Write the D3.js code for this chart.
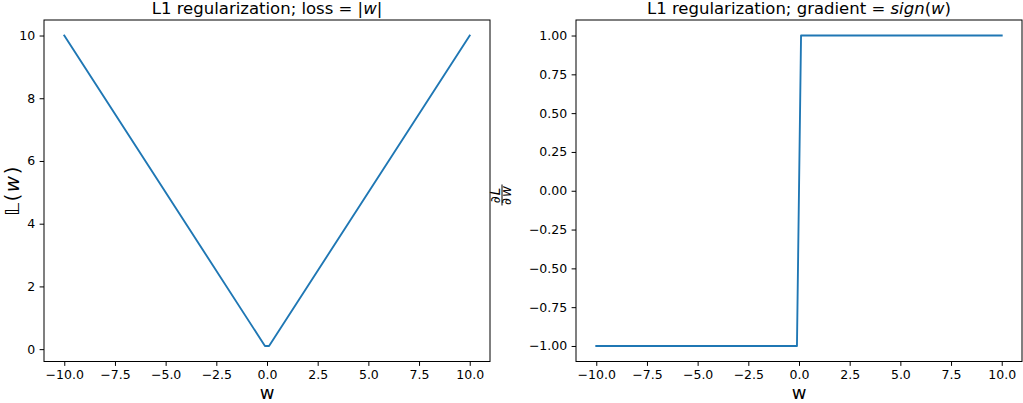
<!DOCTYPE html>
<html>
<head>
<meta charset="utf-8">
<script src="https://cdn.jsdelivr.net/npm/d3@7"></script>
<style>
  html, body { margin: 0; padding: 0; background: #fff; }
  svg { display: block; }
  text { font-family: "DejaVu Sans", sans-serif; fill: #000; }
</style>
</head>
<body>
<svg id="chart" width="1023" height="403"></svg>
<script>
// ---- data (vertices of the plotted lines) ----
const lossW = [-10, -0.101, 0.101, 10];
const lossValues = [10, 0.101, 0.101, 10];
const gradW = [-10, -0.101, 0.101, 10];
const gradValues = [-1, -1, 1, 1];
const xTicks = [-10, -7.5, -5, -2.5, 0, 2.5, 5, 7.5, 10];
const lossTicks = [0, 2, 4, 6, 8, 10];
const gradTicks = [-1, -0.75, -0.5, -0.25, 0, 0.25, 0.5, 0.75, 1];

const svg = d3.select("#chart");
const COLOR = "#1f77b4";
const TICK = 4.4, PAD = 4.4;
const fmtX = d => d3.format(".1f")(d).replace("-", "\u2212");
const fmtLoss = d => String(d);
const fmtGrad = d => d3.format(".2f")(d).replace("-", "\u2212");

function panel(opt) {
  const x = d3.scaleLinear().domain(opt.xDomain).range([opt.x0, opt.x1]);
  const y = d3.scaleLinear().domain(opt.yDomain).range([opt.y1, opt.y0]);
  const g = svg.append("g");

  const pts = opt.xs.map((v, i) => [v, opt.ys[i]]);
  g.append("path")
    .attr("d", d3.line().x(d => x(d[0])).y(d => y(d[1]))(pts))
    .attr("fill", "none").attr("stroke", COLOR)
    .attr("stroke-width", 1.875).attr("stroke-linejoin", "round").attr("stroke-linecap", "square");

  const xa = g.append("g").attr("transform", `translate(0,${opt.y1})`)
    .call(d3.axisBottom(x).tickValues(opt.xTicks).tickFormat(fmtX).tickSizeInner(TICK).tickSizeOuter(0).tickPadding(PAD));
  xa.select(".domain").remove();
  xa.selectAll("text").attr("font-size", "12.5px").attr("font-family", "DejaVu Sans").attr("fill", "#000");
  xa.selectAll("line").attr("stroke", "#000").attr("stroke-width", 1);

  const ya = g.append("g").attr("transform", `translate(${opt.x0},0)`)
    .call(d3.axisLeft(y).tickValues(opt.yTicks).tickFormat(opt.yFmt).tickSizeInner(TICK).tickSizeOuter(0).tickPadding(PAD));
  ya.select(".domain").remove();
  ya.selectAll("text").attr("font-size", "12.5px").attr("font-family", "DejaVu Sans").attr("fill", "#000");
  ya.selectAll("line").attr("stroke", "#000").attr("stroke-width", 1);

  g.append("rect").attr("x", opt.x0).attr("y", opt.y0)
    .attr("width", opt.x1 - opt.x0).attr("height", opt.y1 - opt.y0)
    .attr("fill", "none").attr("stroke", "#000").attr("stroke-width", 1);

  const t = g.append("text").attr("x", (opt.x0 + opt.x1) / 2).attr("y", 13.5)
    .attr("text-anchor", "middle").attr("font-size", "16.5px");
  opt.title.forEach(([s, it]) => t.append("tspan").text(s).attr("font-style", it ? "italic" : "normal"));

  g.append("text").attr("x", (opt.x0 + opt.x1) / 2).attr("y", 398.5)
    .attr("text-anchor", "middle").attr("font-size", "18px").text("w");
  return { x, y, g };
}

panel({
  x0: 44, x1: 490, y0: 20, y1: 361.5,
  xDomain: [-11, 11], yDomain: [-0.394, 10.495],
  xs: lossW, ys: lossValues, xTicks, yTicks: lossTicks, yFmt: fmtLoss,
  title: [["L1 regularization; loss = |", false], ["w", true], ["|", false]]
});
panel({
  x0: 576, x1: 1022, y0: 20, y1: 361.5,
  xDomain: [-11, 11], yDomain: [-1.1, 1.1],
  xs: gradW, ys: gradValues, xTicks, yTicks: gradTicks, yFmt: fmtGrad,
  title: [["L1 regularization; gradient = ", false], ["sign", true], ["(", false], ["w", true], [")", false]]
});

// left y label: 𝕃(w)
const yl = svg.append("text").attr("transform", "translate(18.5,190.5) rotate(-90)")
  .attr("text-anchor", "middle").attr("font-size", "20px").attr("letter-spacing", "1.5px");
yl.append("tspan").text("\u{1D543}");
yl.append("tspan").text("(");
yl.append("tspan").text("w").attr("font-style", "italic");
yl.append("tspan").text(")");

// right y label: ∂L/∂w fraction
const fr = svg.append("g").attr("transform", "translate(502,195) rotate(-90)");
fr.append("text").attr("x", 0).attr("y", -1.8).attr("text-anchor", "middle")
  .attr("font-size", "13.5px").attr("font-style", "italic").attr("letter-spacing", "1px").text("\u2202L");
fr.append("line").attr("x1", -10.5).attr("x2", 10.5).attr("y1", 0).attr("y2", 0)
  .attr("stroke", "#000").attr("stroke-width", 1);
fr.append("text").attr("x", 0).attr("y", 8.5).attr("text-anchor", "middle")
  .attr("font-size", "13.5px").attr("font-style", "italic").attr("letter-spacing", "1px").text("\u2202w");
</script>
</body>
</html>
